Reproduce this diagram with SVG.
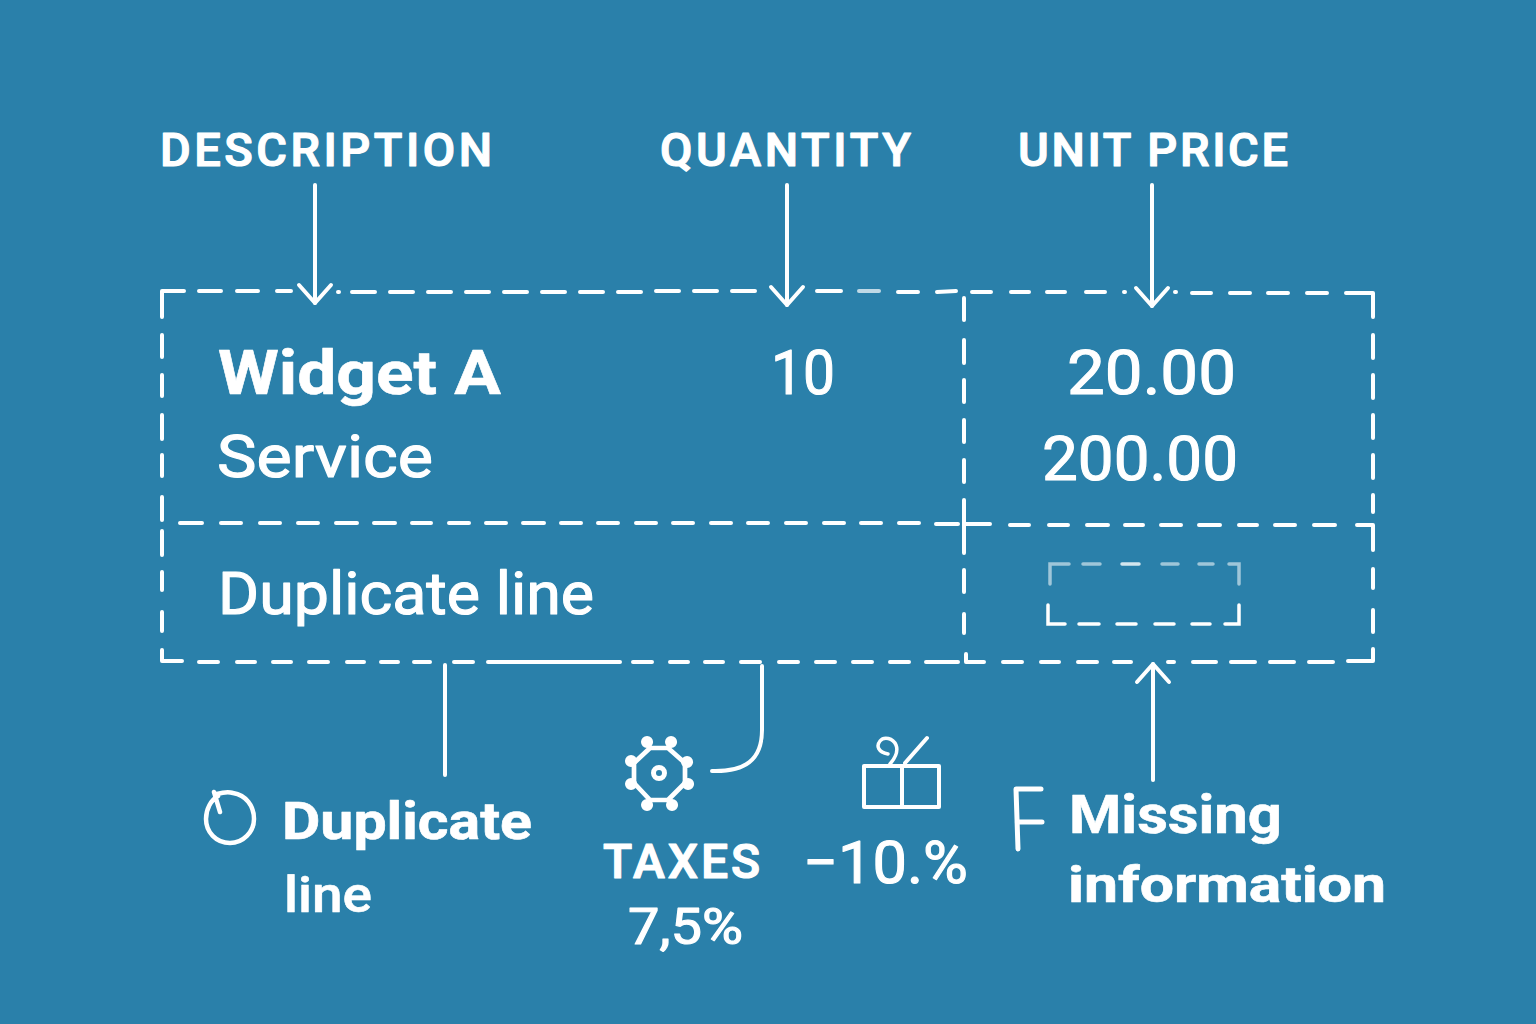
<svg xmlns="http://www.w3.org/2000/svg" width="1536" height="1024" viewBox="0 0 1536 1024">
<style>
.t{font-family:Roboto,"Liberation Sans",sans-serif;fill:#fff;stroke:#fff;stroke-linejoin:round}
.h{font-weight:500;stroke-width:1.2}
.b{font-weight:700;stroke-width:.6}
.m{font-weight:500;stroke-width:.6}
.r{font-weight:400;stroke-width:1.1}
.s{fill:none;stroke:#fff;stroke-width:4;stroke-linecap:round;stroke-linejoin:round}
.i{fill:none;stroke:#fff;stroke-width:3.5;stroke-linecap:round}
</style>
<defs><marker id="a" markerWidth="40" markerHeight="40" refX="22" refY="20" orient="auto" markerUnits="userSpaceOnUse"><path d="M4 4 L22 20 L4 36" fill="none" stroke="#fff" stroke-width="4" stroke-linecap="round" stroke-linejoin="round"/></marker></defs>
<rect width="1536" height="1024" fill="#2a80aa"/>
<g id="table">
<path class="s" d="M184 291 H162 V317 M199 291 H221 M237 291 H258 M277 291 H291 M338 292 H339 M352 292 H375 M390 292 H413 M428 292 H451 M466 292 H489 M504 292 H527 M542 292 H565 M580 292 H603 M618 292 H641 M656 291 H679 M694 291 H717 M732 291 H755 M817 291 H841 M898 292 H918 M937 292 L956 291 M972 292 H991 M1011 292 H1029 M1047 292 H1065 M1086 292 H1105 M1124 292 H1125 M1175 292 H1176 M1192 293 H1211 M1230 293 H1250 M1268 293 H1288 M1307 293 H1327 M1346 293 H1373 V317"/>
<path class="s" opacity=".7" d="M859 291 H879"/>
<path class="s" d="M162 335 V357 M162 375 V396 M162 415 V439 M162 455 V476 M162 497 V520 M162 531 V555 M162 572 V590 M162 612 V631 M162 650 V661 H182 M199 662 H218 M237 662 H255 M273 662 H291 M309 662 H328 M347 662 H364 M381 662 H398 M414 662 H430 M454 662 H473 M488 662 H620 M633 662 H652 M670 662 H688 M705 662 H723 M741 662 H760 M779 662 H798 M816 662 H835 M853 662 H872 M890 662 H909 M926 662 H958"/>
<path class="s" d="M1373 335 V358 M1373 375 V398 M1373 415 V438 M1373 455 V478 M1373 495 V512 M1357 525 H1373 V550 M1373 569 V588 M1373 610 V632 M1373 649 V661 H1348 M1333 662 H1309 M1294 662 H1270 M1255 662 H1231 M1216 662 H1193 M1174 662 H1168 M1131 662 H1114 M1097 662 H1078 M1059 662 H1041 M1022 662 H1003 M984 662 H966 V654"/>
<path class="s" d="M964 298 V320 M964 340 V363 M964 380 V402 M964 420 V442 M964 460 V482 M964 500 V553 M964 570 V592 M964 614 V633"/>
<path class="s" d="M180 523 H202 M221 523 H241 M260 523 H280 M298 523 H318 M336 523 H357 M374 523 H395 M412 523 H431 M449 523 H469 M486 523 H506 M523 523 H544 M561 523 H581 M598 523 H618 M636 523 H656 M673 523 H693 M711 523 H731 M748 523 H768 M786 523 H806 M824 523 H844 M861 523 H881 M899 523 H919 M936 524 H958"/>
<path class="s" d="M965 524 H990 M1010 525 H1029 M1049 525 H1068 M1087 525 H1108 M1125 525 H1143 M1161 525 H1181 M1199 525 H1220 M1239 525 H1257 M1275 525 H1295 M1314 525 H1335"/>
<path class="i" opacity=".55" d="M1069 564 H1050 V584 M1083 564 H1100 M1162 564 H1178 M1199 564 H1213 M1229 564 H1239 V584"/>
<path class="i" opacity=".8" d="M1122 564 H1139"/>
<path class="i" d="M1048 605 V624 H1065 M1079 624 H1099 M1117 624 H1136 M1155 624 H1174 M1192 624 H1210 M1225 624 H1239 V605"/>
</g>
<g id="connectors">
<path class="s" d="M315 185 V303" marker-end="url(#a)"/>
<path class="s" d="M787 185 V305" marker-end="url(#a)"/>
<path class="s" d="M1152 185 V306" marker-end="url(#a)"/>
<path class="s" d="M1153 780 V664" marker-end="url(#a)"/>
<path class="s" d="M445 665 V775"/>
<path class="s" d="M762 666 V730 C762 760 745 772 712 771"/>
</g>
<g id="headers" class="t h" font-size="47">
<text x="160" y="166" textLength="332" lengthAdjust="spacing">DESCRIPTION</text>
<text x="660" y="166" textLength="251" lengthAdjust="spacing">QUANTITY</text>
<text x="1018" y="166" textLength="270" lengthAdjust="spacing">UNIT PRICE</text>
</g>
<g id="cells">
<text x="218" y="394" font-size="62" class="t b" textLength="283" lengthAdjust="spacingAndGlyphs">Widget A</text>
<text x="771" y="394" font-size="62" class="t r" textLength="64" lengthAdjust="spacingAndGlyphs">10</text>
<text x="1067" y="394" font-size="62" class="t r" textLength="169" lengthAdjust="spacingAndGlyphs">20.00</text>
<text x="217" y="477" font-size="60" class="t r" textLength="216" lengthAdjust="spacingAndGlyphs">Service</text>
<text x="1042" y="480" font-size="62" class="t r" textLength="196" lengthAdjust="spacingAndGlyphs">200.00</text>
<text x="218" y="614" font-size="60" class="t r" textLength="376" lengthAdjust="spacingAndGlyphs">Duplicate line</text>
</g>
<g id="duplicate">
<path class="s" style="stroke-width:4.5" d="M214 792 L220 812 M217 794 C224 792 230 792 233 793 C246 795 254 806 254 819 C254 832 243 843 230 843 C216 843 206 832 206 819 C206 809 211 800 218 796"/>
<text class="t b" x="282" y="839" font-size="52" textLength="250" lengthAdjust="spacingAndGlyphs">Duplicate</text>
<text class="t m" x="284" y="912" font-size="50" textLength="88" lengthAdjust="spacingAndGlyphs">line</text>
</g>
<g id="taxes">
<path class="s" style="stroke-width:4.7" d="M650 748 H668 L685 763 V783 L668 800 H650 L634 783 V763 Z M650 748 L647 742 M668 748 L671 742 M685 763 L687 762 M685 783 L688 784 M668 800 L672 805 M650 800 L647 805 M634 783 L631 784 M634 763 L631 761"/>
<circle class="s" style="stroke-width:5" cx="659" cy="773" r="5.5"/>
<path class="s" style="stroke-width:12" d="M647 742 h.1 M671 742 h.1 M631 761 h.1 M687 762 h.1 M631 784 h.1 M688 784 h.1 M647 805 h.1 M672 805 h.1"/>
<text class="t h" x="603" y="878" font-size="48" textLength="157" lengthAdjust="spacing">TAXES</text>
<text class="t r" x="628" y="944" font-size="50" textLength="115" lengthAdjust="spacingAndGlyphs">7,5%</text>
</g>
<g id="discount">
<path class="s" d="M864 766 H939 V807 H864 Z M902 766 V807 M905 763 L927 738"/>
<path class="s" style="stroke-width:3.5" d="M890 764 C896 757 898 750 896 745 C893 738 884 736 880 741 C876 746 878 752 888 754"/>
<text class="t r" x="803" y="883" font-size="60" textLength="165" lengthAdjust="spacingAndGlyphs">−10.%</text>
</g>
<g id="missing">
<path class="s" style="stroke-width:5" d="M1018 849 L1016 789 H1041 M1017 822 H1042"/>
<text class="t b" x="1069" y="833" font-size="54" textLength="213" lengthAdjust="spacingAndGlyphs">Missing</text>
<text class="t b" x="1068" y="902" font-size="50" textLength="318" lengthAdjust="spacingAndGlyphs">information</text>
</g>
</svg>
